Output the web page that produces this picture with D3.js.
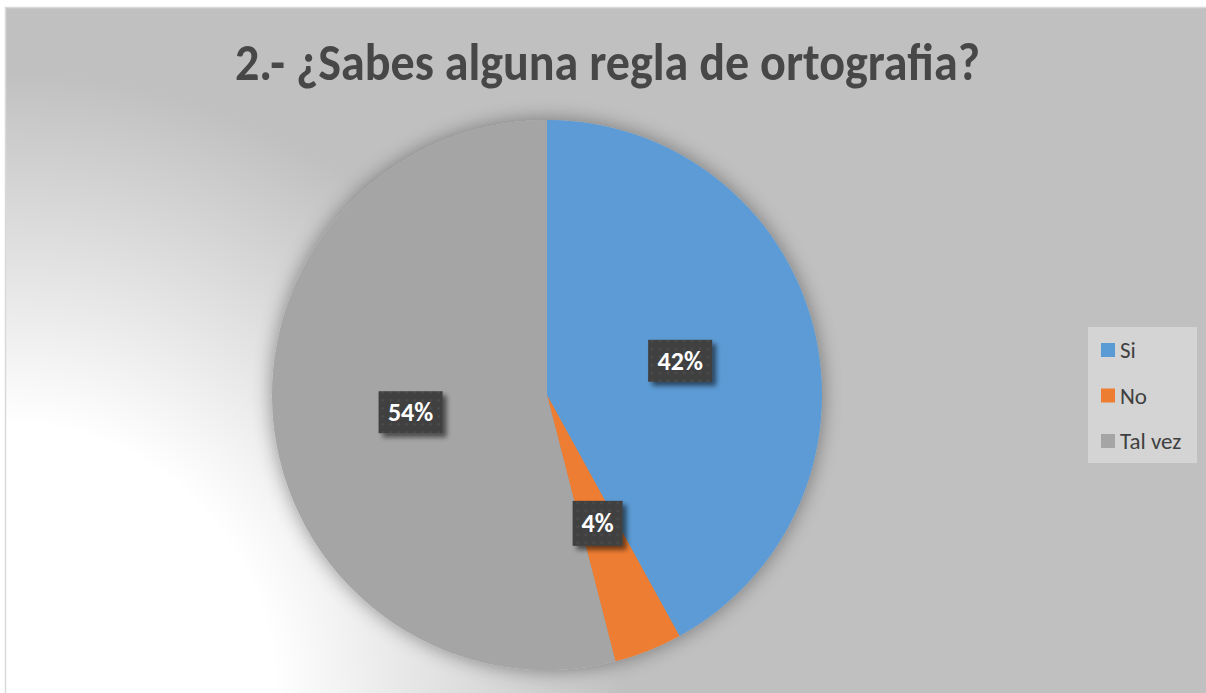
<!DOCTYPE html>
<html>
<head>
<meta charset="utf-8">
<script src="https://cdn.jsdelivr.net/npm/d3@7"></script>
<style>
  body { margin: 0; background: #fff; }
  svg { display: block; font-family: Carlito, Calibri, "Open Sans", "Noto Sans", sans-serif; }
</style>
</head>
<body>
<div id="chart"></div>
<script>
// chart data
var categories = ["Si", "No", "Tal vez"];
var counts = [21, 2, 27];
var labels = ["42%", "4%", "54%"];
var colors = ["#5b9bd5", "#ed7d31", "#a5a5a5"];
var title = "2.- ¿Sabes alguna regla de ortografia?";

var w = 1206, h = 693;
var cx = 547, cy = 395, r = 275;

var svg = d3.select("#chart").append("svg")
    .attr("width", w)
    .attr("height", h);

var defs = svg.append("defs");

// background gradient, white in the lower left corner
var bg = defs.append("radialGradient")
    .attr("id", "bg")
    .attr("gradientUnits", "userSpaceOnUse")
    .attr("cx", 5).attr("cy", h).attr("r", 640);
bg.append("stop").attr("offset", "0%").attr("stop-color", "#ffffff");
bg.append("stop").attr("offset", "42%").attr("stop-color", "#ffffff");
bg.append("stop").attr("offset", "97%").attr("stop-color", "#c0c0c0");
bg.append("stop").attr("offset", "100%").attr("stop-color", "#c0c0c0");

// pie shadow
var sh = defs.append("filter").attr("id", "pieShadow")
    .attr("x", "-20%").attr("y", "-20%").attr("width", "140%").attr("height", "140%");
sh.append("feGaussianBlur").attr("in", "SourceAlpha").attr("stdDeviation", 10);
sh.append("feOffset").attr("dx", 0).attr("dy", 0).attr("result", "b");
sh.append("feComponentTransfer").append("feFuncA").attr("type", "linear").attr("slope", 0.4);
var m = sh.append("feMerge");
m.append("feMergeNode");
m.append("feMergeNode").attr("in", "SourceGraphic");

// label box shadow
var lsh = defs.append("filter").attr("id", "boxShadow")
    .attr("x", "-30%").attr("y", "-30%").attr("width", "170%").attr("height", "170%");
lsh.append("feGaussianBlur").attr("in", "SourceAlpha").attr("stdDeviation", 2.5);
lsh.append("feOffset").attr("dx", 4).attr("dy", 4);
lsh.append("feComponentTransfer").append("feFuncA").attr("type", "linear").attr("slope", 0.55);
var m2 = lsh.append("feMerge");
m2.append("feMergeNode");
m2.append("feMergeNode").attr("in", "SourceGraphic");

// dotted texture of the label boxes
var pat = defs.append("pattern").attr("id", "dots")
    .attr("patternUnits", "userSpaceOnUse")
    .attr("width", 8).attr("height", 8);
pat.append("rect").attr("width", 8).attr("height", 8).attr("fill", "#3f3f3f");
pat.append("circle").attr("cx", 4).attr("cy", 4).attr("r", 1.6).attr("fill", "#4b4b4b");

// background + border
svg.append("rect")
    .attr("x", 0).attr("y", 0).attr("width", w).attr("height", h)
    .attr("fill", "#ffffff");
svg.append("rect")
    .attr("x", 5.5).attr("y", 7.5).attr("width", w).attr("height", h)
    .attr("fill", "url(#bg)")
    .attr("stroke", "#d9d9d9")
    .attr("stroke-width", 1.5);

// title
svg.append("text")
    .attr("x", 235)
    .attr("y", 80)
    .attr("font-size", 53)
    .attr("font-weight", "bold")
    .attr("fill", "#474747")
    .attr("textLength", 745)
    .attr("lengthAdjust", "spacingAndGlyphs")
    .text(title);

// pie
var pie = d3.pie().sort(null).value(function(d) { return d; });
var arc = d3.arc().innerRadius(0).outerRadius(r);
var arcs = pie(counts);

var g = svg.append("g")
    .attr("transform", "translate(" + cx + "," + cy + ")");

g.append("g")
    .attr("filter", "url(#pieShadow)")
    .selectAll("path")
    .data(arcs)
    .enter()
    .append("path")
    .attr("d", arc)
    .attr("fill", function(d, i) { return colors[i]; });

// data labels at the slice centroids
var lab = g.selectAll(".lab")
    .data(arcs)
    .enter()
    .append("g")
    .attr("class", "lab")
    .attr("transform", function(d) {
        var c = arc.centroid(d);
        return "translate(" + c[0] + "," + c[1] + ")";
    });

lab.append("rect")
    .attr("x", function(d, i) { return i == 1 ? -25 : -32; })
    .attr("y", function(d, i) { return i == 1 ? -22 : -21; })
    .attr("width", function(d, i) { return i == 1 ? 50 : 64; })
    .attr("height", function(d, i) { return i == 1 ? 45 : 42; })
    .attr("fill", "url(#dots)")
    .attr("filter", "url(#boxShadow)");

lab.append("text")
    .attr("text-anchor", "middle")
    .attr("dy", "0.35em")
    .attr("font-size", 26)
    .attr("font-weight", "bold")
    .attr("fill", "#ffffff")
    .text(function(d, i) { return labels[i]; });

// legend
var legend = svg.append("g");
legend.append("rect")
    .attr("x", 1088).attr("y", 327)
    .attr("width", 109).attr("height", 136)
    .attr("fill", "#d4d4d4");

var ly = d3.scalePoint().domain(categories).range([350, 441]);

var item = legend.selectAll(".item")
    .data(categories)
    .enter()
    .append("g")
    .attr("class", "item")
    .attr("transform", function(d) { return "translate(1101," + ly(d) + ")"; });

item.append("rect")
    .attr("x", 0).attr("y", -7)
    .attr("width", 14).attr("height", 14)
    .attr("fill", function(d, i) { return colors[i]; });

item.append("text")
    .attr("x", 19)
    .attr("dy", "0.35em")
    .attr("font-size", 23)
    .attr("fill", "#404040")
    .text(function(d) { return d; });
</script>
</body>
</html>
